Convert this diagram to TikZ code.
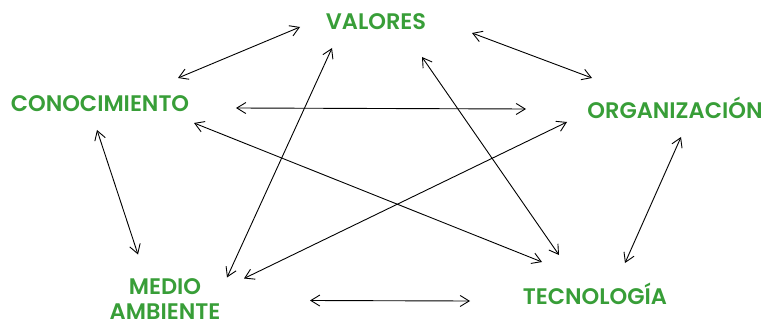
\documentclass[tikz,border=0pt]{standalone}
\usepackage{fontspec}
\setmainfont{Poppins}[BoldFont={Poppins SemiBold}]
\usetikzlibrary{arrows.meta}

\definecolor{leafgreen}{RGB}{56,158,56}
\tikzstyle{concept}=[font=\bfseries\fontsize{22.5}{25}\selectfont,text=leafgreen,inner sep=0pt,text height=16pt,text depth=0pt]
\tikzstyle{link} = [draw,line width=0.9pt,{Straight Barb[length=9pt,width=11pt]}-{Straight Barb[length=9pt,width=11pt]}]

\begin{document}
\begin{tikzpicture}[x=1pt,y=-1pt]
    \useasboundingbox (0,0) rectangle (767,323);
    % First we place the concepts
    \foreach \pos/\name/\word in {{(376,22)/val/VALORES}, {(100,104)/con/CONOCIMIENTO},
        {(675,111)/org/ORGANIZACIÓN}, {(595,296)/tec/TECNOLOGÍA}}
        \node[concept] (\name) at \pos {\word};
    \node[concept,align=center,text height=41pt] (med) at (165,298.5) {MEDIO\\AMBIENTE};
    % Connect every pair of concepts with a double arrow
    \foreach \source/\sx/\sy/\dest/\dx/\dy in {con/78/-26/val/-76/5, con/136/4/org/-149/-2,
        con/94/19/tec/-53/-34, con/-3/26/med/-27/-44, val/-44/26/med/62/-21,
        val/96/11/org/-83/-33, val/46/35/tec/-36/-41, org/-108/11/med/79/-20,
        org/6/26/tec/30/-33, med/145/2/tec/-125/5}
        \path[link] ([shift={(\sx,\sy)}]\source.center) -- ([shift={(\dx,\dy)}]\dest.center);
\end{tikzpicture}
\end{document}
